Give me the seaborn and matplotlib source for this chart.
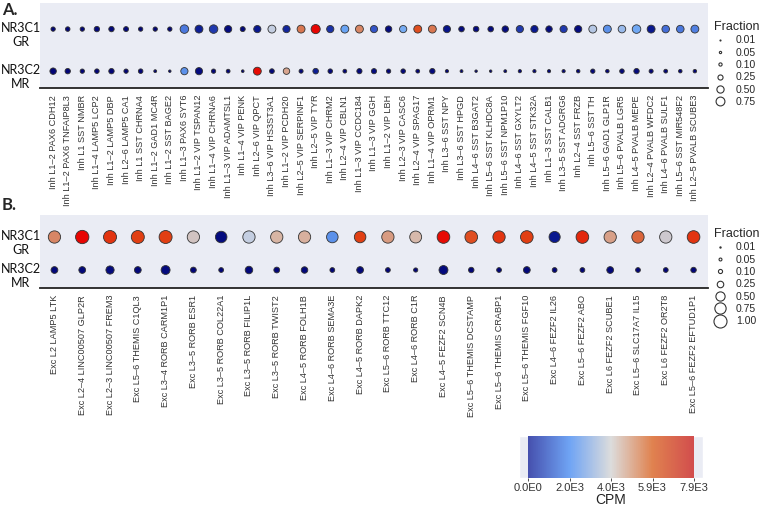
import numpy as np
import pandas as pd
import matplotlib
matplotlib.use("Agg")
import matplotlib.pyplot as plt
import matplotlib.transforms as mtransforms
import seaborn as sns
from matplotlib.colors import LinearSegmentedColormap, Normalize
from matplotlib.cm import ScalarMappable
from matplotlib.lines import Line2D
from matplotlib.patches import Rectangle

# ---------------- datos ----------------
receptores = ["NR3C1\nGR", "NR3C2\nMR"]

celulas_inh = [
    "Inh L1–2 PAX6 CDH12", "Inh L1–2 PAX6 TNFAIP8L3", "Inh L1 SST NMBR", "Inh L1–4 LAMP5 LCP2",
    "Inh L1–2 LAMP5 DBP", "Inh L2–6 LAMP5 CA1", "Inh L1 SST CHRNA4", "Inh L1–2 GAD1 MC4R",
    "Inh L1–2 SST BAGE2", "Inh L1–3 PAX6 SYT6", "Inh L1–2 VIP TSPAN12", "Inh L1–4 VIP CHRNA6",
    "Inh L1–3 VIP ADAMTSL1", "Inh L1–4 VIP PENK", "Inh L2–6 VIP QPCT", "Inh L3–6 VIP HS3ST3A1",
    "Inh L1–2 VIP PCDH20", "Inh L2–5 VIP SERPINF1", "Inh L2–5 VIP TYR", "Inh L1–3 VIP CHRM2",
    "Inh L2–4 VIP CBLN1", "Inh L1–3 VIP CCDC184", "Inh L1–3 VIP GGH", "Inh L1–2 VIP LBH",
    "Inh L2–3 VIP CASC6", "Inh L2–4 VIP SPAG17", "Inh L1–4 VIP OPRM1", "Inh L3–6 SST NPY",
    "Inh L3–6 SST HPGD", "Inh L4–6 SST B3GAT2", "Inh L5–6 SST KLHDC8A", "Inh L5–6 SST NPM1P10",
    "Inh L4–6 SST GXYLT2", "Inh L4–5 SST STK32A", "Inh L1–3 SST CALB1", "Inh L3–5 SST ADGRG6",
    "Inh L2–4 SST FRZB", "Inh L5–6 SST TH", "Inh L5–6 GAD1 GLP1R", "Inh L5–6 PVALB LGR5",
    "Inh L4–5 PVALB MEPE", "Inh L2–4 PVALB WFDC2", "Inh L4–6 PVALB SULF1", "Inh L5–6 SST MIR548F2",
    "Inh L2–5 PVALB SCUBE3",
]
cpm_inh_gr = [150, 150, 150, 200, 200, 200, 150, 150, 150, 1700, 700, 1000, 300, 200, 600,
              3500, 800, 5600, 7800, 900, 2200, 5300, 1300, 300, 2400, 6500, 5600, 500, 250, 250,
              250, 300, 1000, 600, 300, 1000, 300, 3300, 2000, 2900, 2300, 600, 1600, 1700, 1800]
cpm_inh_mr = [150, 150, 150, 150, 150, 150, 150, 150, 150, 2000, 300, 150, 150, 150, 7700,
              200, 4700, 200, 700, 200, 150, 200, 300, 150, 200, 150, 250, 150, 150, 150,
              150, 150, 150, 150, 150, 150, 150, 200, 150, 200, 250, 150, 150, 150, 150]
frac_inh_gr = [0.18, 0.2, 0.18, 0.28, 0.28, 0.24, 0.18, 0.18, 0.18, 0.7, 0.6, 0.7, 0.5, 0.24, 0.5,
               0.6, 0.5, 0.6, 0.8, 0.5, 0.6, 0.6, 0.5, 0.4, 0.5, 0.6, 0.6, 0.5, 0.3, 0.3,
               0.3, 0.4, 0.5, 0.5, 0.4, 0.5, 0.5, 0.6, 0.6, 0.55, 0.7, 0.6, 0.55, 0.55, 0.6]
frac_inh_mr = [0.4, 0.28, 0.18, 0.2, 0.28, 0.18, 0.2, 0.08, 0.06, 0.5, 0.5, 0.18, 0.14, 0.07, 0.6,
               0.22, 0.4, 0.16, 0.3, 0.2, 0.14, 0.26, 0.26, 0.18, 0.2, 0.14, 0.28, 0.1, 0.08, 0.06,
               0.06, 0.08, 0.1, 0.1, 0.1, 0.1, 0.12, 0.18, 0.12, 0.2, 0.28, 0.16, 0.14, 0.12, 0.12]

celulas_exc = [
    "Exc L2 LAMP5 LTK", "Exc L2–4 LINC00507 GLP2R", "Exc L2–3 LINC00507 FREM3", "Exc L5–6 THEMIS C1QL3",
    "Exc L3–4 RORB CARM1P1", "Exc L3–5 RORB ESR1", "Exc L3–5 RORB COL22A1", "Exc L3–5 RORB FILIP1L",
    "Exc L3–5 RORB TWIST2", "Exc L4–5 RORB FOLH1B", "Exc L4–6 RORB SEMA3E", "Exc L4–5 RORB DAPK2",
    "Exc L5–6 RORB TTC12", "Exc L4–6 RORB C1R", "Exc L4–5 FEZF2 SCN4B", "Exc L5–6 THEMIS DCSTAMP",
    "Exc L5–6 THEMIS CRABP1", "Exc L5–6 THEMIS FGF10", "Exc L4–6 FEZF2 IL26", "Exc L5–6 FEZF2 ABO",
    "Exc L6 FEZF2 SCUBE1", "Exc L5–6 SLC17A7 IL15", "Exc L6 FEZF2 OR2T8", "Exc L5–6 FEZF2 EFTUD1P1",
]
cpm_exc_gr = [5300, 7800, 7000, 6800, 6800, 4000, 300, 3500, 4400, 4500, 2000, 6800,
              4900, 4300, 7700, 6500, 7000, 6800, 600, 7200, 4800, 6000, 3800, 7000]
cpm_exc_mr = [200, 200, 250, 200, 250, 150, 150, 200, 150, 200, 150, 200,
              150, 150, 250, 150, 150, 200, 150, 150, 200, 150, 150, 150]
frac_exc_gr = [0.85, 1.0, 0.95, 0.95, 0.95, 0.85, 0.75, 0.85, 0.85, 0.85, 0.75, 0.75,
               0.85, 0.8, 0.9, 0.9, 0.85, 0.9, 0.7, 0.9, 0.85, 0.85, 0.85, 0.9]
frac_exc_mr = [0.26, 0.26, 0.38, 0.26, 0.45, 0.19, 0.13, 0.32, 0.19, 0.24, 0.13, 0.26,
               0.13, 0.1, 0.45, 0.17, 0.13, 0.26, 0.13, 0.13, 0.26, 0.13, 0.13, 0.17]

fracciones_inh = [0.01, 0.05, 0.10, 0.25, 0.50, 0.75]
fracciones_exc = [0.01, 0.05, 0.10, 0.25, 0.50, 0.75, 1.00]
cpm_max = 7900

# ---------------- estilo ----------------
sns.set_style("white")
plt.rcParams["font.family"] = ["Liberation Sans", "DejaVu Sans"]

fondo = "#eaecf4"
cmap_puntos = LinearSegmentedColormap.from_list("puntos", [
    (0.0, "#000070"), (0.08, "#0a1a90"), (0.18, "#3a5fd0"), (0.28, "#6aa5f5"),
    (0.45, "#c8d0e0"), (0.55, "#d8b8a8"), (0.70, "#d87a55"), (0.85, "#e04515"),
    (1.0, "#e80000")])
cmap_barra = LinearSegmentedColormap.from_list("barra", [
    "#4650ae", "#6fa4f4", "#dcdcdc", "#e0824f", "#d24d4d"])


def armar_df(celulas, cpm_gr, cpm_mr, frac_gr, frac_mr):
    return pd.DataFrame({
        "celula": celulas * 2,
        "receptor": [receptores[0]] * len(celulas) + [receptores[1]] * len(celulas),
        "cpm": cpm_gr + cpm_mr,
        "frac": frac_gr + frac_mr,
    })


def panel(ax, df, smax, ylim, tick_len, margen):
    sns.scatterplot(data=df, x="celula", y="receptor", hue="cpm", palette=cmap_puntos,
                    hue_norm=(0, cpm_max), size="frac", sizes=(0, smax), size_norm=(0, 1),
                    edgecolor="#333333", linewidth=0.6, legend=False, ax=ax)
    n = df["celula"].nunique()
    ax.set_facecolor(fondo)
    ax.set_xlim(-margen, n - 1 + margen)
    ax.set_ylim(*ylim)
    ax.set_xlabel("")
    ax.set_ylabel("")
    for s in ["top", "right", "left"]:
        ax.spines[s].set_visible(False)
    ax.spines["bottom"].set_linewidth(1.3)
    ax.spines["bottom"].set_color("#222222")
    ax.tick_params(axis="x", rotation=90, labelsize=6.6, length=3, width=0.6,
                   colors="#333333", pad=2)
    ax.tick_params(axis="y", length=tick_len, width=0.6, labelleft=False)
    # etiquetas de receptor: primera línea alineada con la fila de puntos
    trans = mtransforms.offset_copy(ax.get_yaxis_transform(), fig=ax.figure,
                                    x=-19, y=7, units="dots")
    for i, r in enumerate(receptores):
        ax.text(0, i, r, transform=trans, ha="center", va="top", fontsize=9,
                family=["Lato", "DejaVu Sans"], color="#111111", linespacing=1.2)


def leyenda(fig, fracs, smax, y_top):
    handles = [Line2D([], [], marker="o", linestyle="", markersize=np.sqrt(smax * f),
                      markerfacecolor="white", markeredgecolor="#333333",
                      markeredgewidth=0.8) for f in fracs]
    labels = [f"{f:.2f}" for f in fracs]
    leg = fig.legend(handles, labels, title="Fraction", loc="upper left",
                     bbox_to_anchor=(710 / 768, 1 - y_top / 507), frameon=False,
                     fontsize=7.5, title_fontsize=9, labelspacing=0.22,
                     handletextpad=0.9, handlelength=1.2, borderaxespad=0)
    leg._legend_box.align = "left"


fig = plt.figure(figsize=(7.68, 5.07), dpi=100)

# panel A
ax_a = fig.add_axes([40 / 768, 1 - 88 / 507, 668 / 768, 85 / 507])
df_inh = armar_df(celulas_inh, cpm_inh_gr, cpm_inh_mr, frac_inh_gr, frac_inh_mr)
panel(ax_a, df_inh, 54, (1.40, -0.62), 0, 0.9)
leyenda(fig, fracciones_inh, 54, 17)

# panel B
ax_b = fig.add_axes([40 / 768, 1 - 288 / 507, 668 / 768, 73 / 507])
df_exc = armar_df(celulas_exc, cpm_exc_gr, cpm_exc_mr, frac_exc_gr, frac_exc_mr)
panel(ax_b, df_exc, 92, (1.545, -0.667), 2, 0.52)
leyenda(fig, fracciones_exc, 88, 224)

fig.text(2 / 768, 1 - 10 / 507, "A.", fontsize=12, fontweight="bold",
         family=["Lato", "DejaVu Sans"], va="center")
fig.text(2 / 768, 1 - 205 / 507, "B.", fontsize=12, fontweight="bold",
         family=["Lato", "DejaVu Sans"], va="center")

# barra de color
fig.patches.append(Rectangle((519 / 768, 1 - 478 / 507), 184 / 768, 42 / 507,
                             transform=fig.transFigure, facecolor=fondo, zorder=-5))
cax = fig.add_axes([528 / 768, 1 - 478 / 507, 166 / 768, 42 / 507])
cax.set_zorder(5)
cb = fig.colorbar(ScalarMappable(norm=Normalize(0, cpm_max), cmap=cmap_barra),
                  cax=cax, orientation="horizontal")
cb.outline.set_visible(False)
ticks = np.linspace(0, cpm_max, 5)


def fmt_e(v):
    if v == 0:
        return "0.0E0"
    e = int(np.floor(np.log10(v)))
    return f"{v / 10 ** e:.1f}E{e}"


cb.set_ticks(ticks)
cb.set_ticklabels([fmt_e(v) for v in ticks])
cax.tick_params(labelsize=8, length=2.5, width=0.6, colors="#333333", pad=1)
cb.set_label("CPM", fontsize=10, labelpad=0, color="#222222")

fig.savefig("out.png", dpi=100)
